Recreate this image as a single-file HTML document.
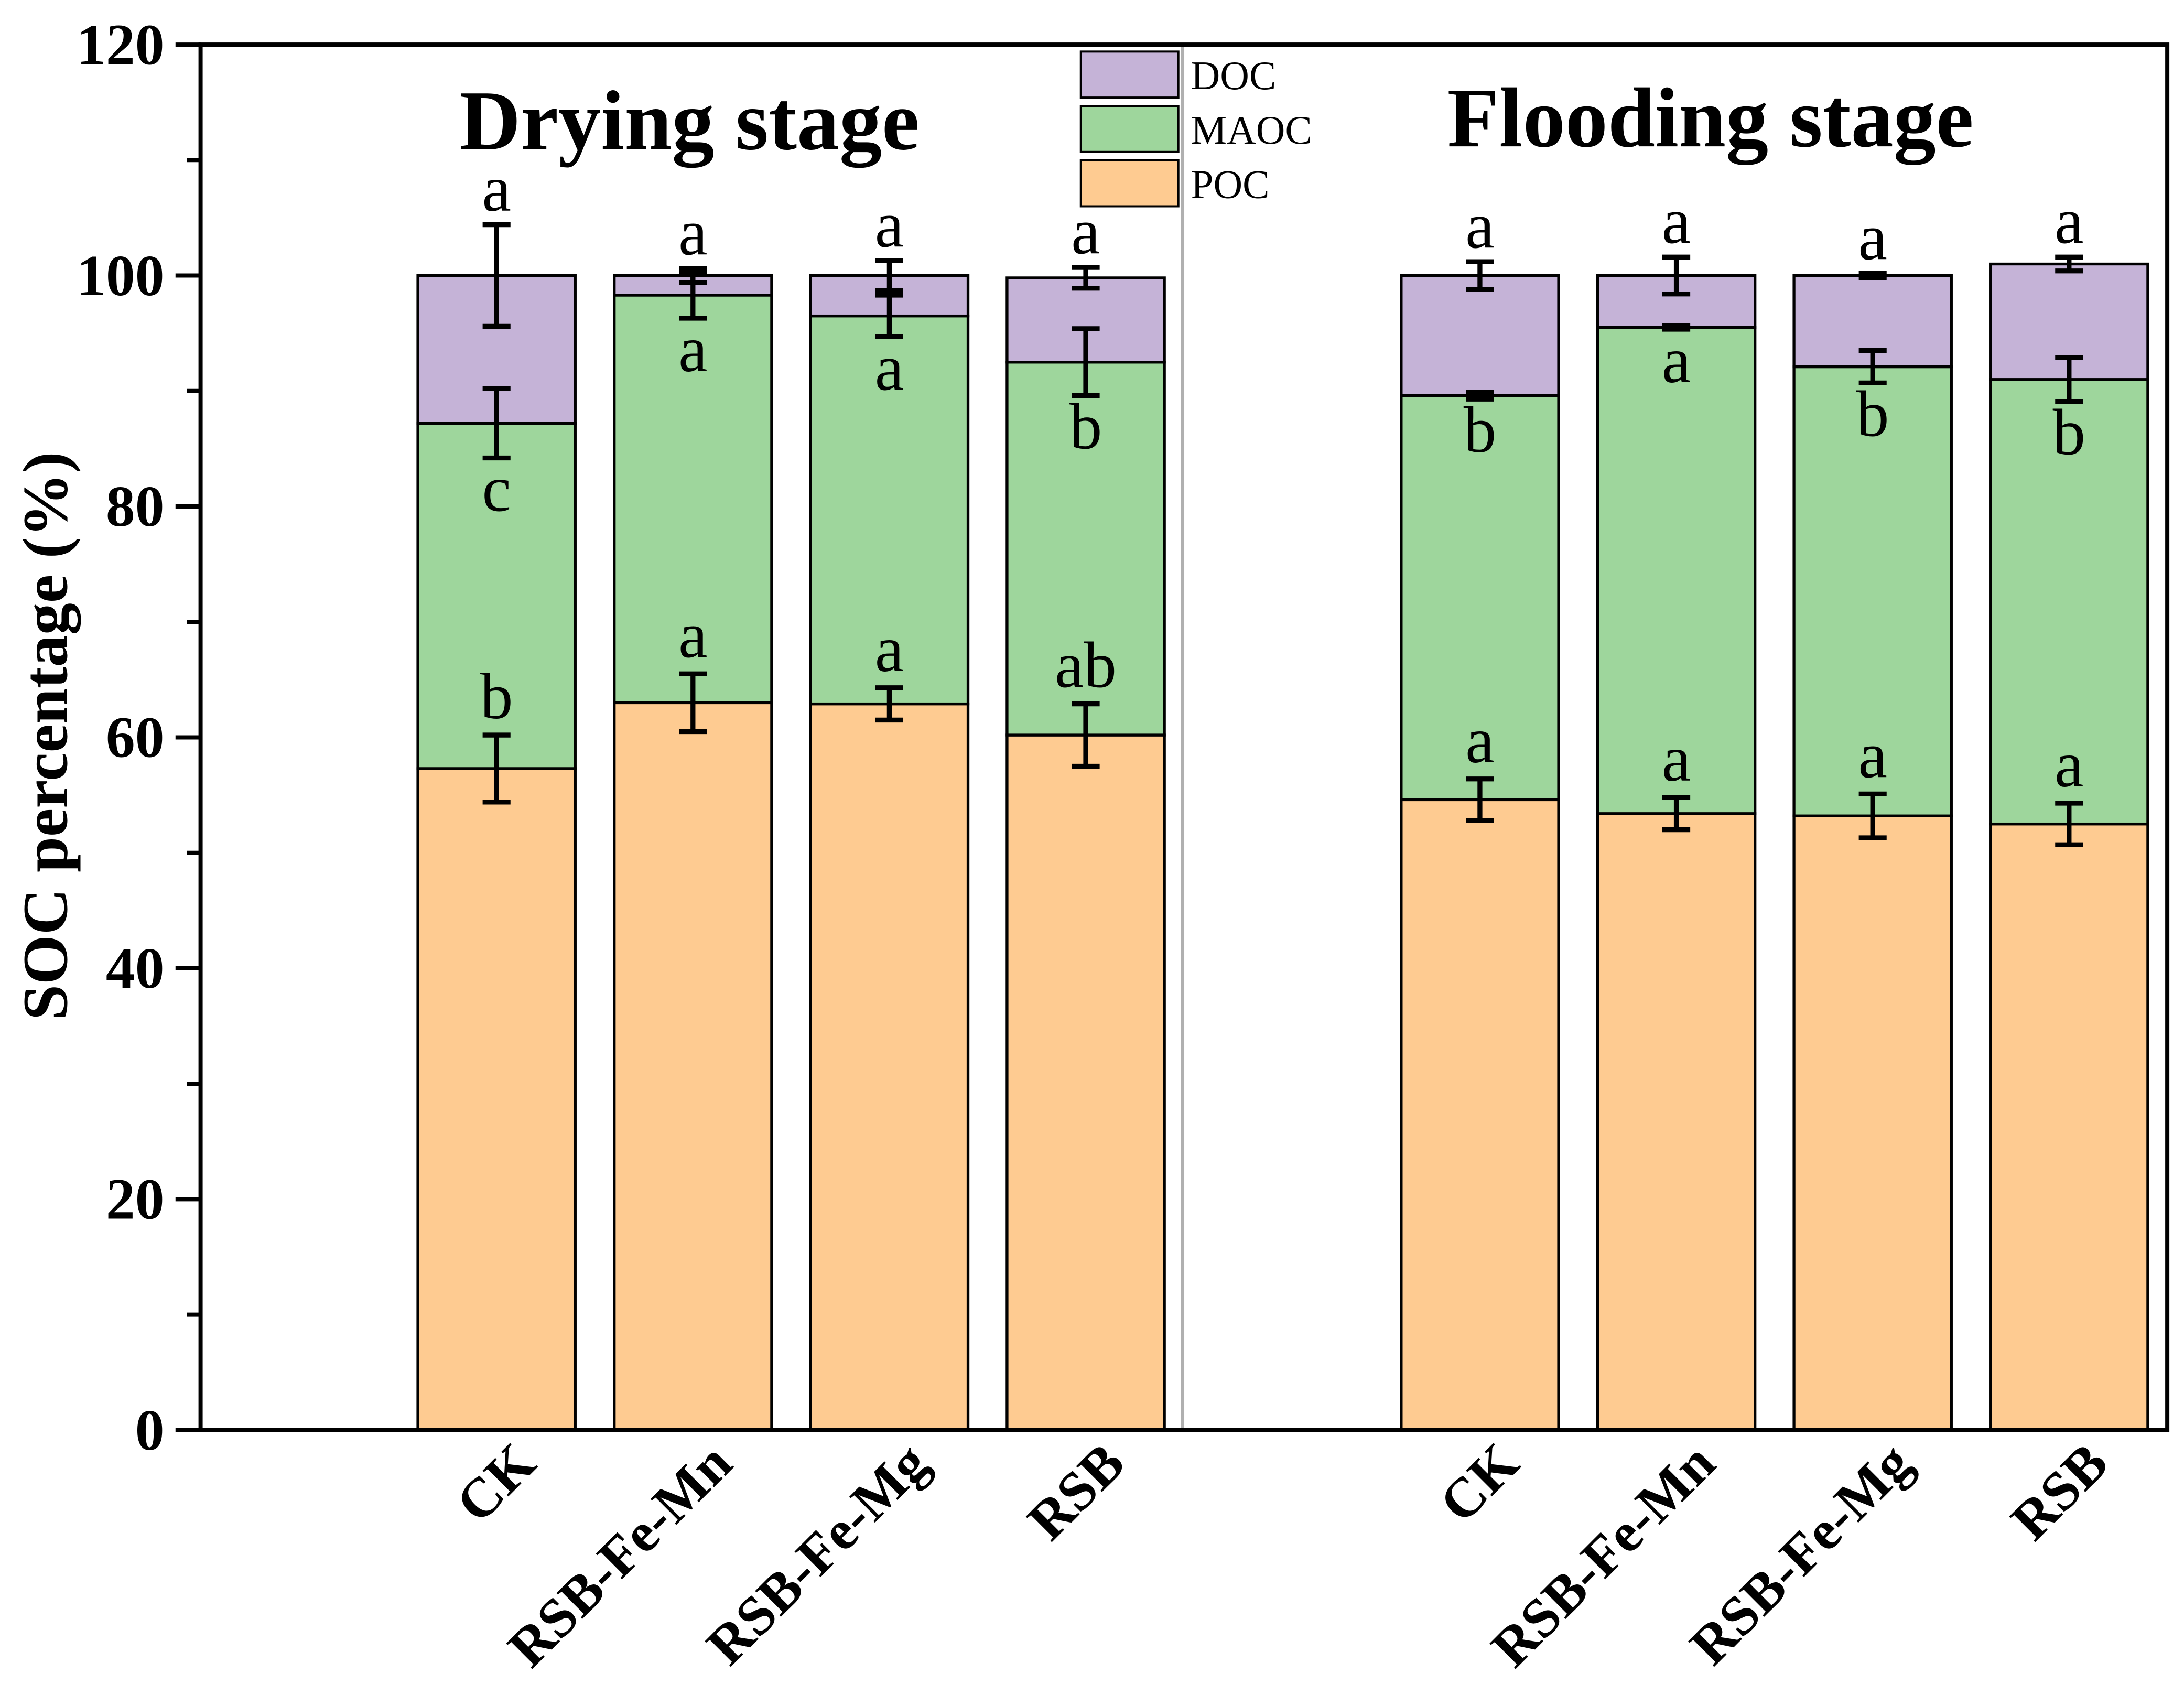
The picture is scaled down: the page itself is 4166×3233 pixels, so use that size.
<!DOCTYPE html>
<html><head><meta charset="utf-8"><style>html,body{margin:0;padding:0;background:#fff}svg{display:block}</style></head>
<body>
<svg id="chart" width="4166" height="3233" viewBox="0 0 1568 1216" preserveAspectRatio="none" xmlns="http://www.w3.org/2000/svg" font-family="'Liberation Serif', serif">
<g id="g"></g>
</svg>
<script>
const categories = ["CK","RSB-Fe-Mn","RSB-Fe-Mg","RSB","CK","RSB-Fe-Mn","RSB-Fe-Mg","RSB"];
const pocTop = [57.3,63.0,62.9,60.2,54.6,53.4,53.2,52.5];
const maocTop = [87.2,98.3,96.5,92.5,89.6,95.5,92.1,91.0];
const docTop = [100,100,100,99.8,100,100,100,101.0];
const pocErr = [2.9,2.5,1.4,2.7,1.8,1.4,1.9,1.8];
const maocErr = [3.0,2.0,1.8,2.9,0.3,0.15,1.4,1.9];
const docErr = [4.4,0.6,1.3,0.9,1.2,1.6,0.2,0.6];
const pocLetters = ["b","a","a","ab","a","a","a","a"];
const maocLetters = ["c","a","a","b","b","a","b","b"];
const docLetters = ["a","a","a","a","a","a","a","a"];
const yTicks = [0,20,40,60,80,100,120];

const NS="http://www.w3.org/2000/svg";
const g=document.getElementById('g');
const L=144,R=1556,T=32,B=1026;
const y=v=>B-(v/120)*(B-T);
const barX=i=>[300,441,582,723,1006,1147,1288,1429][i];
const BW=113;
function el(tag,attrs,parent){const e=document.createElementNS(NS,tag);for(const k in attrs)e.setAttribute(k,attrs[k]);(parent||g).appendChild(e);return e;}
function txt(s,attrs){const e=el('text',attrs);e.textContent=s;return e;}

let e=el('line',{x1:849,x2:849,y1:T,y2:B,stroke:'#b0b0b0','stroke-width':2.5});



const cols={poc:'#FECB91',maoc:'#9ED69C',doc:'#C5B3D7'};
for(let i=0;i<categories.length;i++){
  const x=barX(i);
  const segs=[[0,pocTop[i],cols.poc,'poc'],[pocTop[i],maocTop[i],cols.maoc,'maoc'],[maocTop[i],docTop[i],cols.doc,'doc']];
  for(const s of segs){
    e=el('rect',{x:x,y:y(s[1]),width:BW,height:y(s[0])-y(s[1]),fill:s[2],stroke:'#000','stroke-width':2});
    
    
  }
  const cx=x+BW/2;
  const errs=[[pocTop[i],pocErr[i]],[maocTop[i],maocErr[i]],[docTop[i],docErr[i]]];
  for(const [v,d] of errs){
    const eg=el('g',{stroke:'#000','stroke-width':3.5});
    
    
    el('line',{x1:cx,x2:cx,y1:y(v+d),y2:y(v-d)},eg);
    el('line',{x1:cx-10,x2:cx+10,y1:y(v+d),y2:y(v+d)},eg);
    el('line',{x1:cx-10,x2:cx+10,y1:y(v-d),y2:y(v-d)},eg);
  }
  e=txt(pocLetters[i],{x:cx,y:y(pocTop[i]+pocErr[i])-12,'text-anchor':'middle','font-size':47});
  
  
  e=txt(maocLetters[i],{x:cx,y:y(maocTop[i]-maocErr[i])+38,'text-anchor':'middle','font-size':47});
  
  
  e=txt(docLetters[i],{x:cx,y:y(docTop[i]+docErr[i])-10,'text-anchor':'middle','font-size':47});
  
  
  e=txt(categories[i],{x:0,y:0,'text-anchor':'end','font-size':40,'font-weight':'bold',transform:`translate(${cx+30},${1052}) rotate(-45)`});
  
  
}

e=el('rect',{x:L,y:T,width:R-L,height:B-T,fill:'none',stroke:'#000','stroke-width':3});


for(let v=0;v<=120;v+=10){
  const major=v%20===0;
  e=el('line',{x1:L-(major?18:10),x2:L,y1:y(v),y2:y(v),stroke:'#000','stroke-width':3});
  
  
}
for(const v of yTicks){
  e=txt(String(v),{x:L-26,y:y(v)+14,'text-anchor':'end','font-size':42,'font-weight':'bold'});
  
  
}
e=txt('SOC percentage (%)',{x:0,y:0,'text-anchor':'middle','font-size':46,'font-weight':'bold',transform:'translate(48,528) rotate(-90)'});


e=txt('Drying stage',{x:495,y:107,'text-anchor':'middle','font-size':61,'font-weight':'bold'});


e=txt('Flooding stage',{x:1228,y:105,'text-anchor':'middle','font-size':61,'font-weight':'bold'});



const leg=[['DOC',cols.doc,37],['MAOC',cols.maoc,76],['POC',cols.poc,115]];
for(const [n,c,yy] of leg){
  const lg=el('g',{});
  
  
  el('rect',{x:776,y:yy,width:70,height:33,fill:c,stroke:'#000','stroke-width':1.5},lg);
  const t=el('text',{x:855,y:yy+27,'font-size':29},lg);t.textContent=n;
}
</script>
</body></html>
